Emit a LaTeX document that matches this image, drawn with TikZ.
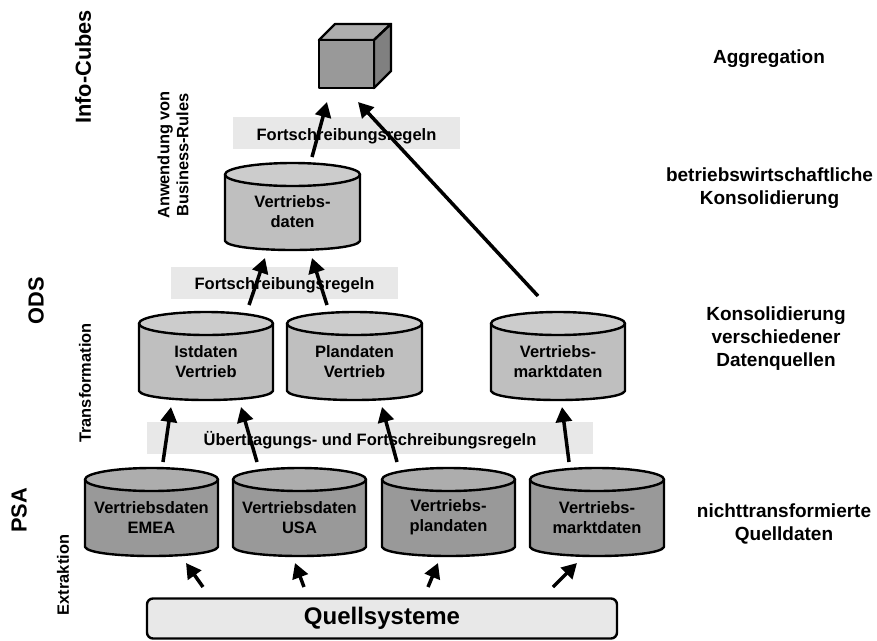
\documentclass[tikz,border=0pt]{standalone}
\usepackage{fontspec}
\setmainfont{Liberation Sans}
\usetikzlibrary{arrows.meta}
\definecolor{lightfill}{gray}{0.75}
\definecolor{lighttop}{gray}{0.80}
\definecolor{darkfill}{gray}{0.60}
\definecolor{darktop}{gray}{0.68}
\definecolor{bandfill}{gray}{0.91}
\tikzset{
  every node/.style={font=\bfseries\fontsize{16.5}{20}\selectfont,align=center,inner sep=0pt},
  band/.style={fill=bandfill,minimum height=32pt,text height=14pt,text depth=0pt},
  outline/.style={draw=black,line width=2.4pt,line join=round},
  flow/.style={draw=black,line width=3.5pt,-{Triangle[length=15pt,width=16pt]}},
  sidelabel/.style={font=\bfseries\fontsize{19}{23}\selectfont},
  biglabel/.style={rotate=90,font=\bfseries\fontsize{21.8}{25}\selectfont},
  smalllabel/.style={rotate=90,font=\bfseries\fontsize{16.4}{19}\selectfont}
}
% \cyl{name}{left}{right}{top}{bottom}{body}{top fill}{text}
\newcommand{\cyl}[8]{%
  \pgfmathsetmacro{\rx}{(#2+#3)/2}%
  \pgfmathsetmacro{\ry}{(#3-#2)/2}%
  \path[outline,fill=#6] (#2,#4+11.5) -- (#2,#5-9) .. controls (#2+5,#5+3) and (#3-5,#5+3) .. (#3,#5-9) -- (#3,#4+11.5) -- cycle;
  \path[outline,fill=#7] (\rx,#4+11.5) ellipse[x radius=\ry,y radius=11.5];
  \node (#1) at (\rx,{(#4+23+#5)/2-6}) {#8};
}
\begin{document}
\begin{tikzpicture}[x=1pt,y=-1pt]
\useasboundingbox (0,0) rectangle (877,640);
% bands
\node[band,minimum width=227pt] (b1) at (346.5,133) {Fortschreibungsregeln};
\node[band,minimum width=227pt] (b2) at (284.5,282.5) {Fortschreibungsregeln};
\node[band,minimum width=446pt] (b3) at (370,438) {Übertragungs- und Fortschreibungsregeln};
% cube
\path[outline,fill=darktop] (319,40) -- (335,24) -- (391,24) -- (374,40) -- cycle;
\path[outline,fill=black!50] (374,40) -- (391,24) -- (391,71) -- (374,88) -- cycle;
\path[outline,fill=darkfill] (319,40) rectangle (374,88);
\coordinate (cubeL) at (327,102);
\coordinate (cubeR) at (358,102);
% cylinders
\cyl{v}{225}{360}{163}{250}{lightfill}{lighttop}{Vertriebs-\\daten}
\cyl{ist}{139}{273}{312}{400}{lightfill}{lighttop}{Istdaten\\Vertrieb}
\cyl{plan}{287}{422}{312}{400}{lightfill}{lighttop}{Plandaten\\Vertrieb}
\cyl{markt}{491}{625}{312}{400}{lightfill}{lighttop}{Vertriebs-\\marktdaten}
\cyl{emea}{85}{218}{468}{556}{darkfill}{darktop}{Vertriebsdaten\\EMEA}
\cyl{usa}{233}{366}{468}{556}{darkfill}{darktop}{Vertriebsdaten\\USA}
\cyl{pd}{382}{515}{468}{556}{darkfill}{darktop}{Vertriebs-\\plandaten}
\cyl{md}{530}{664}{468}{556}{darkfill}{darktop}{Vertriebs-\\marktdaten}
% source
\node[outline,fill=bandfill,rounded corners=6pt,minimum width=470pt,minimum height=40pt,font=\bfseries\fontsize{24}{28}\selectfont] (q) at (382,618.5) {Quellsysteme};
% arrow end points
\foreach \n/\x/\y in {a1/203/587,a2/186/563,a3/304/587,a4/295/563,a5/428/587,a6/438/563,a7/553/587,a8/577/563,
 c1/163/462,c2/171/407,c3/257/462,c4/241/407,c5/397/462,c6/382/407,c7/569/462,c8/562/407,
 d1/249/305,d2/265/258,d3/327/305,d4/312/258,d5/538/296,e1/312/157}
  \coordinate (\n) at (\x,\y);
\draw[flow] (a1) -- (a2);
\draw[flow] (a3) -- (a4);
\draw[flow] (a5) -- (a6);
\draw[flow] (a7) -- (a8);
\draw[flow] (c1) -- (c2);
\draw[flow] (c3) -- (c4);
\draw[flow] (c5) -- (c6);
\draw[flow] (c7) -- (c8);
\draw[flow] (d1) -- (d2);
\draw[flow] (d3) -- (d4);
\draw[flow] (e1) -- (cubeL);
\draw[flow] (d5) -- (cubeR);
% left labels
\node[biglabel] (l1) at (83,67) {Info-Cubes};
\node[smalllabel] (l2) at (173,155) {Anwendung von\\Business-Rules};
\node[biglabel] (l3) at (36,301) {ODS};
\node[smalllabel] (l4) at (85,383) {Transformation};
\node[biglabel] (l5) at (19,510.5) {PSA};
\node[smalllabel] (l6) at (63,575) {Extraktion};
% right labels
\node[sidelabel] (r1) at (769,59) {Aggregation};
\node[sidelabel] (r2) at (769.5,188) {betriebswirtschaftliche\\Konsolidierung};
\node[sidelabel] (r3) at (776,339) {Konsolidierung\\verschiedener\\Datenquellen};
\node[sidelabel] (r4) at (784,524) {nichttransformierte\\Quelldaten};
\end{tikzpicture}
\end{document}
